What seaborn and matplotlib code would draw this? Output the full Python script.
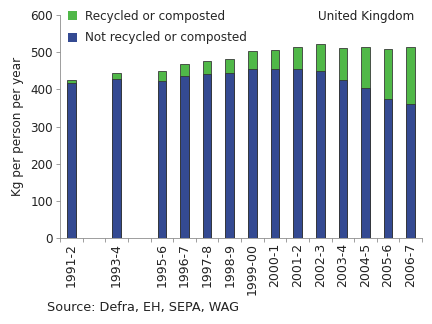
import matplotlib
matplotlib.use("Agg")
import matplotlib.pyplot as plt
import seaborn as sns
import pandas as pd
import numpy as np

categories = ["1991-2", "1992-3", "1993-4", "1994-5", "1995-6", "1996-7", "1997-8",
              "1998-9", "1999-00", "2000-1", "2001-2", "2002-3", "2003-4", "2004-5",
              "2005-6", "2006-7"]
tick_labels = ["1991-2", "", "1993-4", "", "1995-6", "1996-7", "1997-8", "1998-9",
               "1999-00", "2000-1", "2001-2", "2002-3", "2003-4", "2004-5", "2005-6", "2006-7"]
not_recycled = [416, np.nan, 429, np.nan, 423, 436, 441, 444, 455, 455, 455, 449, 424, 403, 374, 360]
recycled = [10, np.nan, 16, np.nan, 26, 32, 35, 38, 48, 52, 60, 72, 87, 111, 135, 154]

total = [a + b for a, b in zip(not_recycled, recycled)]
df = pd.DataFrame({"year": categories, "not": not_recycled, "rec": recycled, "total": total})

sns.set_style("white")
plt.rcParams["font.family"] = ["DejaVu Sans"]

fig = plt.figure(figsize=(6, 4.5), dpi=72)
ax = fig.add_axes([0.139, 0.265, 0.838, 0.689])

green = "#50b848"
blue = "#344a92"
edge = "#333333"
tc = "#222222"

sns.barplot(data=df, x="year", y="total", order=categories, color=green, width=0.38,
            edgecolor=edge, linewidth=0.8, saturation=1, ax=ax, label="Recycled or composted")
sns.barplot(data=df, x="year", y="not", order=categories, color=blue, width=0.38,
            edgecolor=edge, linewidth=0.8, saturation=1, ax=ax, label="Not recycled or composted")

ax.set_xlim(-0.5, 15.5)
ax.set_ylim(0, 600)
ax.set_yticks(range(0, 601, 100))
ax.set_xticks(range(len(categories)))
ax.set_xticklabels(tick_labels, rotation=90, fontsize=12.5, color=tc)
ax.set_xticks(np.arange(-0.5, 15.6, 1), minor=True)
ax.tick_params(axis="x", which="major", length=0, pad=5)
ax.tick_params(axis="x", which="minor", length=4, width=0.8, color="#888888", direction="out", bottom=True)
ax.tick_params(axis="y", length=4, width=0.8, color="#888888", direction="out", left=True,
               labelsize=12, labelcolor=tc, pad=3)
ax.set_xlabel("")
ax.set_ylabel("Kg per person per year", fontsize=12, color=tc, labelpad=6)

for s in ["top", "right"]:
    ax.spines[s].set_visible(False)
for s in ["left", "bottom"]:
    ax.spines[s].set_color("#888888")
    ax.spines[s].set_linewidth(0.8)

leg = ax.legend(loc="upper left", bbox_to_anchor=(0.0, 1.06), frameon=False, fontsize=12,
                handlelength=0.75, handleheight=0.75, handletextpad=0.6, labelspacing=0.7,
                borderaxespad=0.3)
for h in leg.legend_handles:
    h.set_edgecolor("none")

ax.text(0.978, 0.991, "United Kingdom", transform=ax.transAxes, ha="right", va="center",
        fontsize=12, color=tc)
fig.text(47 / 432, 1 - 308 / 324, "Source: Defra, EH, SEPA, WAG", ha="left", va="center",
         fontsize=12.8, color=tc)

fig.savefig("out.png", dpi=72)
